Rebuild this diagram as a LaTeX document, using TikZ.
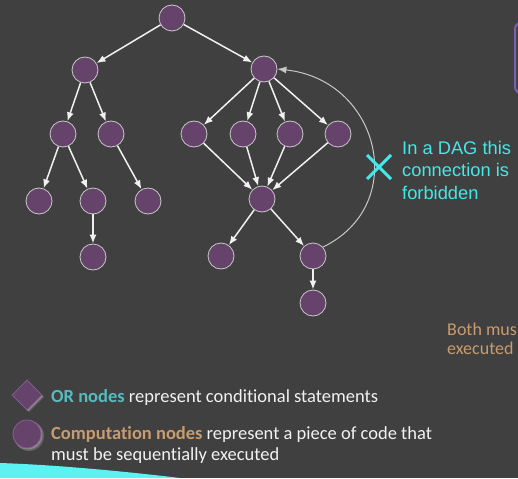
\documentclass[tikz,border=0pt]{standalone}
\usepackage{fontspec}
\setmainfont[Ligatures=NoCommon]{Carlito}
\newfontfamily\arialf{Liberation Sans}
\usetikzlibrary{arrows.meta,shapes.geometric}
\definecolor{bgc}{HTML}{404040}
\definecolor{nodefill}{HTML}{66436B}
\definecolor{nodeline}{HTML}{C8C8C8}
\definecolor{edgec}{HTML}{F0F0F0}
\definecolor{cyanc}{HTML}{45E8E8}
\definecolor{tanc}{HTML}{C89C6E}
\definecolor{tealc}{HTML}{55BCBF}
\definecolor{whitec}{HTML}{F2F2F2}
\definecolor{legline}{HTML}{8A5C98}
\definecolor{boxline}{HTML}{7E5EB0}
\definecolor{wedgec}{HTML}{5CF2F2}
\tikzset{
  cnode/.style={circle,fill=nodefill,draw=nodeline,line width=0.8pt,minimum size=26pt,inner sep=0pt},
  edge/.style={draw=edgec,line width=1.5pt,-{Latex[length=9pt,width=7pt]}},
  dagtxt/.style={text=cyanc,font=\arialf\fontsize{18.3}{22}\selectfont,anchor=base west,inner sep=0pt},
  legtxt/.style={text=whitec,font=\fontsize{18.5}{21}\selectfont,anchor=base west,inner sep=0pt},
  tantxt/.style={text=tanc,font=\fontsize{18}{19}\selectfont,anchor=base west,inner sep=0pt}
}
\begin{document}
\begin{tikzpicture}[x=1pt,y=-1pt]
\useasboundingbox (0,0) rectangle (518,478);
\clip (0,0) rectangle (518,478);
\fill[bgc] (0,0) rectangle (518,478);
% partial box at right edge
\draw[boxline,line width=2pt,rounded corners=6pt] (515,23) rectangle (545,93);
% bottom wedge
\fill[wedgec] (0,463) .. controls (60,465) and (130,472) .. (180,478) -- (0,478) -- cycle;
% nodes
\node[cnode] (r) at (172,18) {};
\node[cnode] (a) at (85,70) {};
\node[cnode] (b) at (264,69) {};
\node[cnode] (a1) at (63,134) {};
\node[cnode] (a2) at (111,134) {};
\node[cnode] (a11) at (39,201) {};
\node[cnode] (a12) at (93,201) {};
\node[cnode] (a21) at (148,201) {};
\node[cnode] (a121) at (93,257) {};
\node[cnode] (b1) at (194,134) {};
\node[cnode] (b2) at (243,134) {};
\node[cnode] (b3) at (290,134) {};
\node[cnode] (b4) at (338,134) {};
\node[cnode] (c) at (262,199) {};
\node[cnode] (c1) at (221,256) {};
\node[cnode] (c2) at (313,256) {};
\node[cnode] (c21) at (313,303) {};
% edges
\path[edge] (r) -- (a);
\path[edge] (r) -- (b);
\path[edge] (a) -- (a1);
\path[edge] (a) -- (a2);
\path[edge] (a1) -- (a11);
\path[edge] (a1) -- (a12);
\path[edge] (a2) -- (a21);
\path[edge] (a12) -- (a121);
\path[edge] (b) -- (b1);
\path[edge] (b) -- (b2);
\path[edge] (b) -- (b3);
\path[edge] (b) -- (b4);
\path[edge] (b1) -- (c);
\path[edge] (b2) -- (c);
\path[edge] (b3) -- (c);
\path[edge] (b4) -- (c);
\path[edge] (c) -- (c1);
\path[edge] (c) -- (c2);
\path[edge] (c2) -- (c21);
% forbidden back edge
\draw[draw=nodeline,line width=1pt,-{Latex[length=9pt,width=7pt]}] (c2.42) .. controls (410,205) and (380,80) .. (b.east);
% cross
\coordinate (xm) at (379,167);
\draw[cyanc,line width=3pt] ([shift={(-12,-12)}]xm) -- ([shift={(12,12)}]xm);
\draw[cyanc,line width=3pt] ([shift={(-12,12)}]xm) -- ([shift={(12,-12)}]xm);
\node[dagtxt] (t1) at (402,155) {In a DAG this};
\node[dagtxt] (t2) at (402,177) {connection is};
\node[dagtxt] (t3) at (402,199) {forbidden};
% both must
\node[tantxt] (bm1) at (447,335) {Both mus};
\node[tantxt] (bm2) at (447,354) {executed};
% legend shapes with glow
\fill[white,opacity=0.18] (29,382) -- (44,397) -- (29,412) -- (14,397) -- cycle;
\fill[white,opacity=0.25] (28,381) -- (43,396) -- (28,411) -- (13,396) -- cycle;
\node[diamond,fill=nodefill,draw=legline,line width=0.8pt,minimum width=30pt,minimum height=30pt,inner sep=0pt] (ld) at (27,395) {};
\fill[white,opacity=0.18] (29,436) circle (15);
\fill[white,opacity=0.25] (28,435) circle (14.5);
\node[circle,fill=nodefill,draw=legline,line width=0.8pt,minimum size=28pt,inner sep=0pt] (lc) at (27,434) {};
\node[legtxt] (l1) at (51,402) {\textcolor{tealc}{\bfseries OR nodes} represent conditional statements};
\node[legtxt] (l2) at (51,439) {\textcolor{tanc}{\bfseries Computation nodes} represent a piece of code that};
\node[legtxt] (l3) at (51,460) {must be sequentially executed};
\end{tikzpicture}
\end{document}
